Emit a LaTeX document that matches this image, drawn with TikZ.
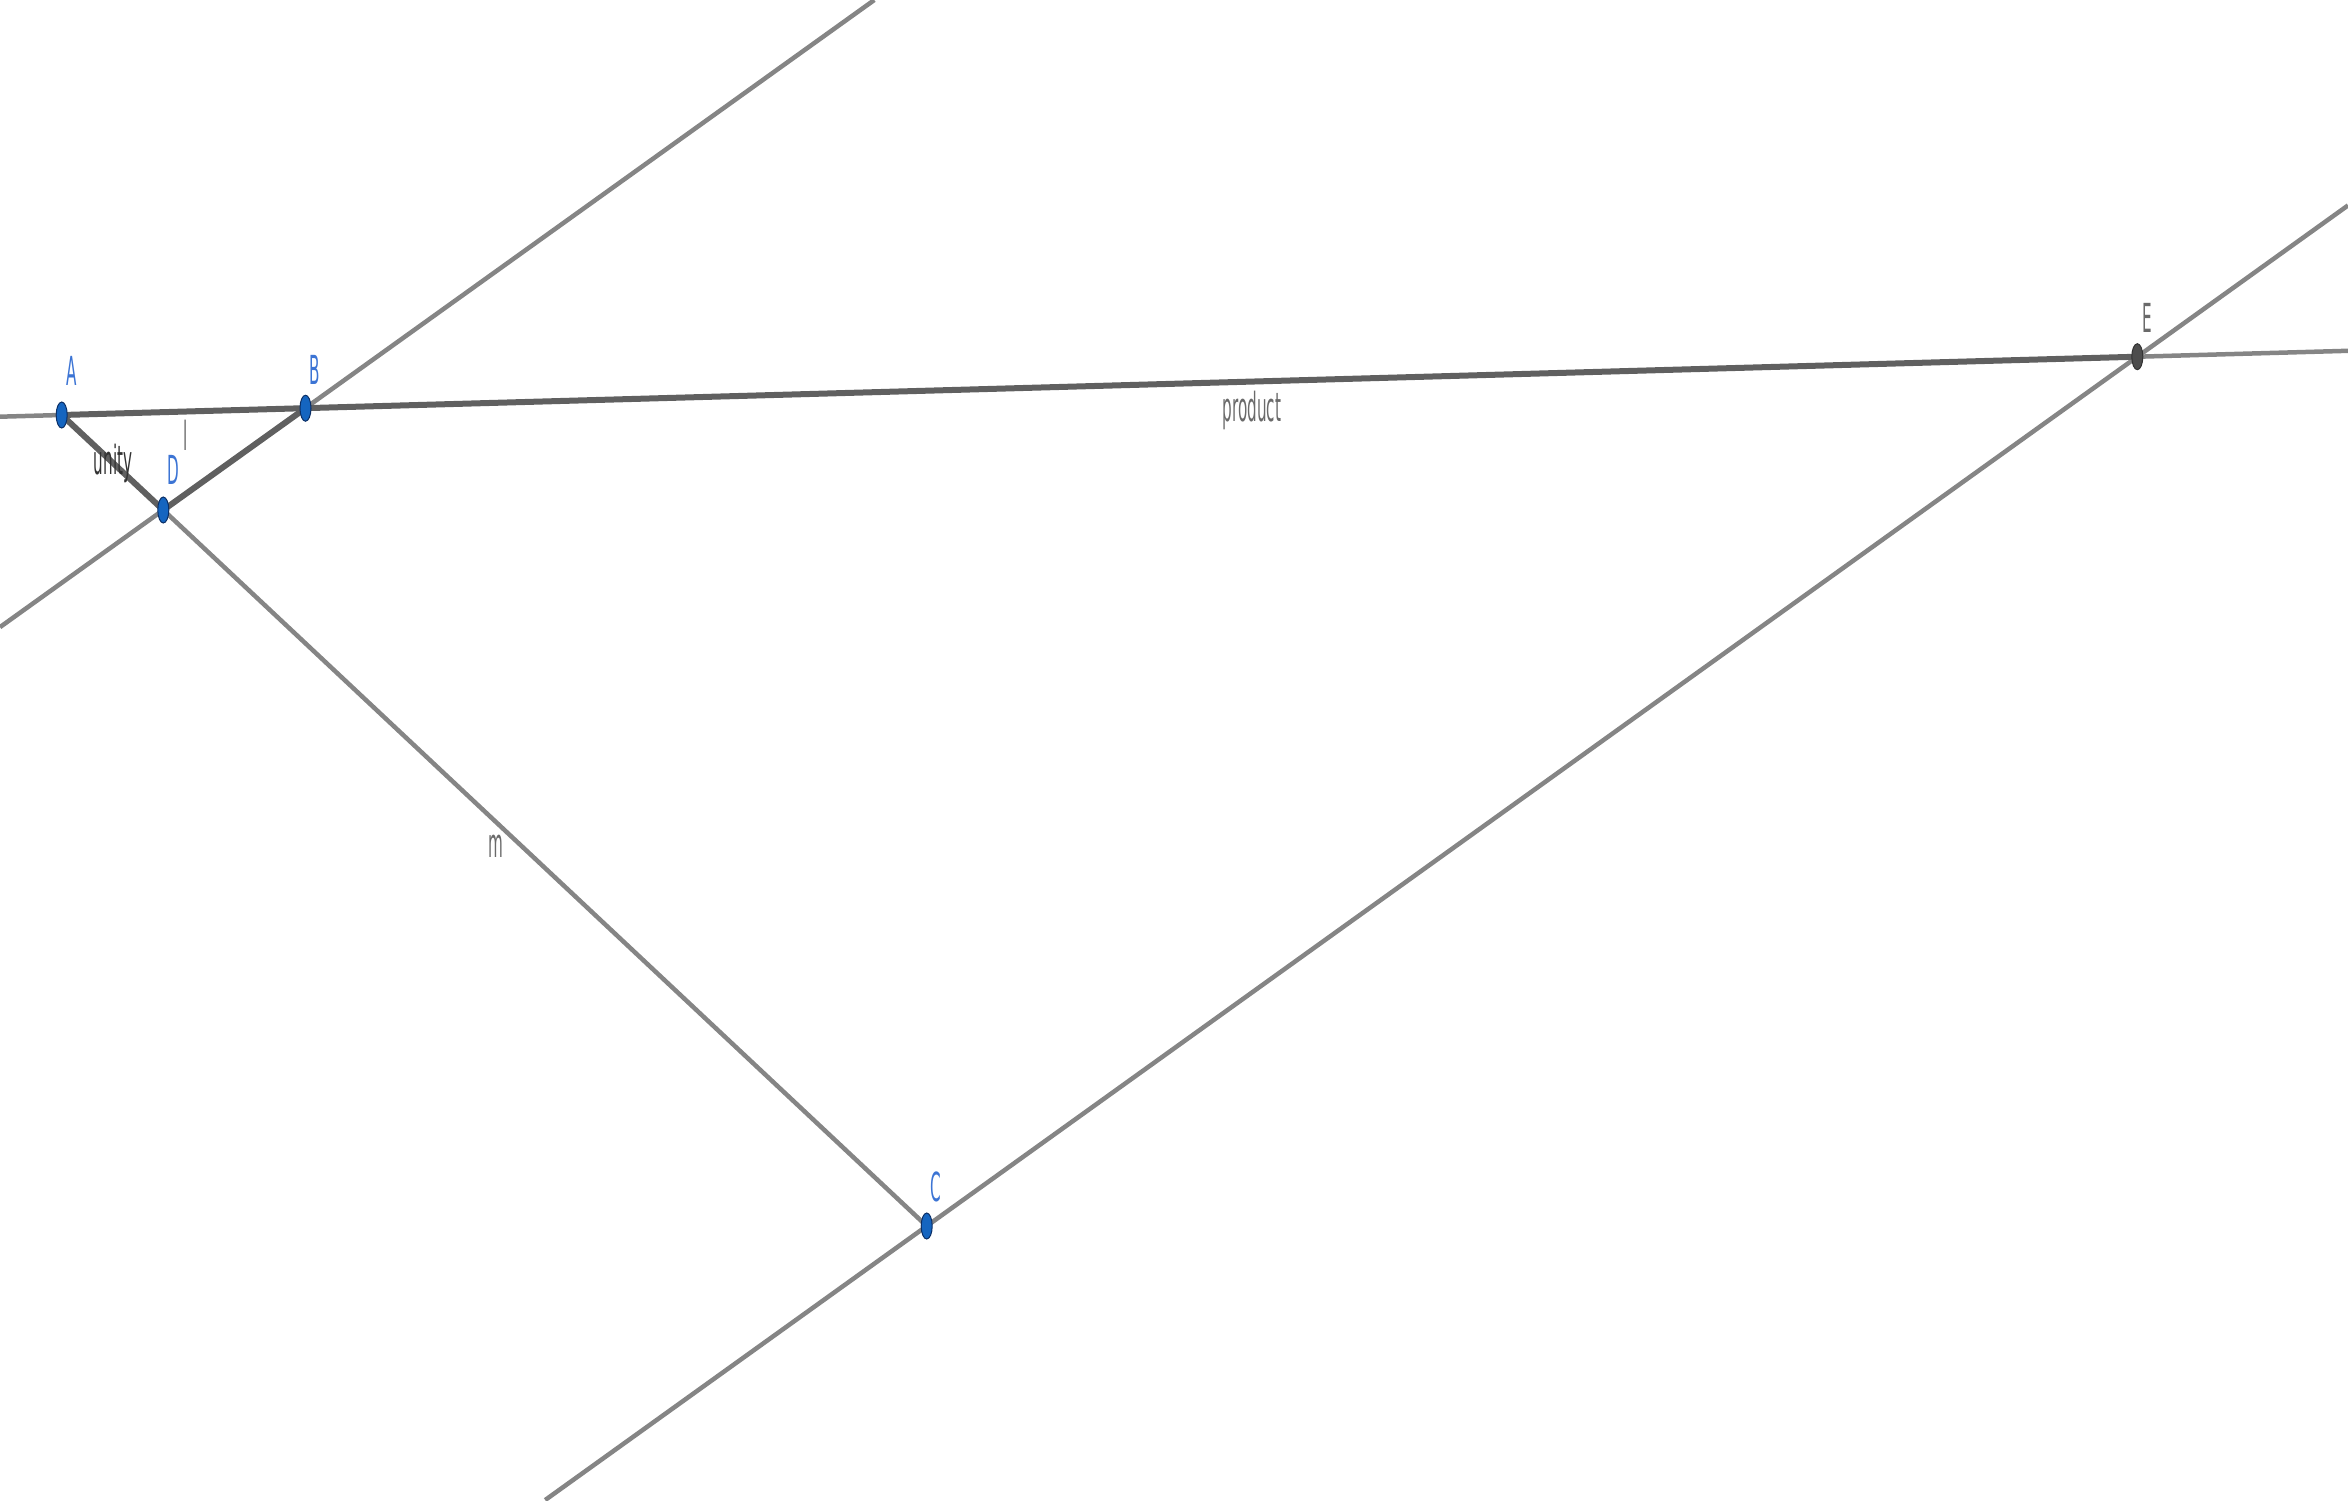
\documentclass[tikz,border=0pt]{standalone}
\usepackage{fontspec}
\setmainfont{DejaVu Sans}
\usepackage{graphicx}
\definecolor{thinln}{HTML}{858585}
\definecolor{thickln}{HTML}{606060}
\definecolor{ptblue}{HTML}{1565C0}
\definecolor{ptedge}{HTML}{0B2F66}
\definecolor{lblblue}{HTML}{3C74D4}
\definecolor{lblgray}{HTML}{6A6A6A}
\definecolor{ptgray}{HTML}{4D4D4D}
\newcommand{\cond}[1]{\scalebox{0.38}[1]{\fontsize{40}{48}\selectfont #1}}
\tikzset{
  thinline/.style={draw=thinln, line width=4.5pt},
  thickline/.style={draw=thickln, line width=6pt},
  freept/.style={ellipse, minimum width=11pt, minimum height=26pt, inner sep=0pt, fill=ptblue, draw=ptedge, line width=1pt},
  deppt/.style={ellipse, minimum width=11pt, minimum height=26pt, inner sep=0pt, fill=ptgray, draw=black!80, line width=1pt},
  ptlabel/.style={inner sep=0pt, text=lblblue},
  objlabel/.style={inner sep=0pt, text=lblgray},
}
\usetikzlibrary{shapes.geometric}
\begin{document}
\begin{tikzpicture}[x=1pt, y=-1pt]
\useasboundingbox (0,0) rectangle (2348,1500);
% coordinates
\coordinate (A) at (61.7,415);
\coordinate (B) at (305.5,408.2);
\coordinate (D) at (163.3,510);
\coordinate (C) at (926.7,1226);
\coordinate (E) at (2137.3,356.7);
% line ends
\coordinate (pL) at (0,416.7);
\coordinate (pR) at (2348,350.8);
\coordinate (lL) at (0,627.1);
\coordinate (lR) at (874.3,0);
\coordinate (kL) at (545.2,1500);
\coordinate (kR) at (2348,205.4);
% thin lines
\draw[thinline] (pL) -- (pR);
\draw[thinline] (lL) -- (lR);
\draw[thinline] (kL) -- (kR);
\draw[thinline] (D) -- (C);
% thick segments
\draw[thickline] (A) -- (E);
\draw[thickline] (D) -- (B);
\draw[thickline] (A) -- (D);
% points
\node[freept] (nA) at (A) {};
\node[freept] (nB) at (B) {};
\node[freept] (nD) at (D) {};
\node[freept] (nC) at (C) {};
\node[deppt] (nE) at (E) {};
% labels
\node[ptlabel] (tA) at (72,371) {\cond{A}};
\node[ptlabel] (tB) at (315,370) {\cond{B}};
\node[ptlabel] (tD) at (173,470) {\cond{D}};
\node[ptlabel] (tC) at (936,1187) {\cond{C}};
\node[objlabel] (tE) at (2147,318) {\cond{E}};
\node[inner sep=0pt, text=black!80] (tu) at (113,463) {\cond{unity}};
\node[objlabel] (tl) at (186,435) {\cond{l}};
\node[objlabel] (tp) at (1252,410) {\cond{product}};
\node[objlabel] (tm) at (496,846) {\cond{m}};
\end{tikzpicture}
\end{document}
